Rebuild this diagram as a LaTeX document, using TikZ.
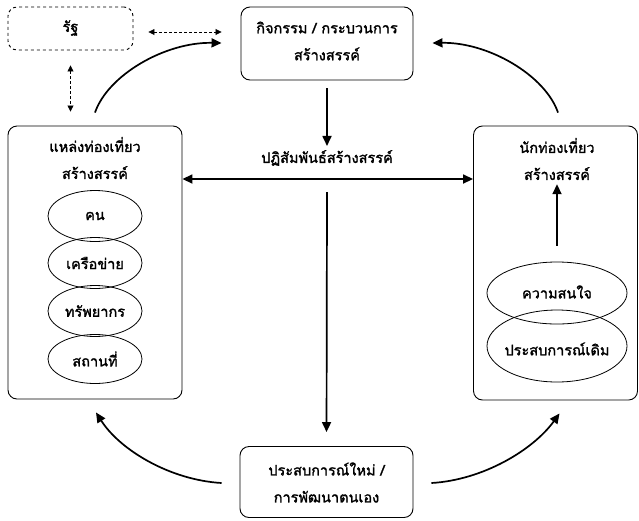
\documentclass[tikz,border=0pt]{standalone}
\usepackage{fontspec}
\newfontfamily\thaifont[Script=Thai,FakeBold=1.6]{Loma}
\usetikzlibrary{shapes.geometric,arrows.meta}
\tikzset{
  box/.style={draw, rounded corners=9pt, line width=0.9pt, inner sep=0pt},
  txt/.style={font=\thaifont\fontsize{14.5}{18}\selectfont, align=center, inner sep=0pt},
  oval/.style={draw, ellipse, line width=0.8pt, inner sep=0pt},
  arr/.style={-{Triangle[length=10pt,width=9pt]}, line width=1.7pt},
  darr/.style={{Triangle[length=10pt,width=9pt]}-{Triangle[length=10pt,width=9pt]}, line width=1.7pt},
  dasharr/.style={{Triangle[length=6pt,width=6pt]}-{Triangle[length=6pt,width=6pt]}, line width=0.8pt, dash pattern=on 3pt off 2pt},
}
\begin{document}
\begin{tikzpicture}[x=1pt,y=-1pt]
\useasboundingbox (0,0) rectangle (639,520);
% boxes
\node[box, dashed, minimum width=125pt, minimum height=43pt] (state) at (70.5,28.5) {};
\node[txt] (statet) at (70.5,28) {รัฐ};
\node[box, minimum width=172pt, minimum height=73pt] (act) at (327,43.5) {};
\node[txt] (actt) at (327,41) {กิจกรรม / กระบวนการ\\[9pt]สร้างสรรค์};
\node[txt] (inter) at (327,158) {ปฏิสัมพันธ์สร้างสรรค์};
\node[box, minimum width=174pt, minimum height=273pt] (left) at (95,262.5) {};
\node[txt] (leftt) at (95,158) {แหล่งท่องเที่ยว\\[9pt]สร้างสรรค์};
\node[box, minimum width=164pt, minimum height=274pt] (right) at (555.5,263) {};
\node[txt] (rightt) at (557,159) {นักท่องเที่ยว\\[9pt]สร้างสรรค์};
\node[box, minimum width=173pt, minimum height=71pt] (bottom) at (326.5,482) {};
\node[txt] (bottomt) at (326.5,482.5) {ประสบการณ์ใหม่ /\\[9pt]การพัฒนาตนเอง};
% left ellipses
\node[oval, minimum width=94pt, minimum height=51pt] (e1) at (95,216) {};
\node[oval, minimum width=94pt, minimum height=51pt] (e2) at (95,263) {};
\node[oval, minimum width=94pt, minimum height=51pt] (e3) at (95,311) {};
\node[oval, minimum width=94pt, minimum height=49pt] (e4) at (95,359) {};
\node[txt] at (e1) {คน};
\node[txt] at (e2) {เครือข่าย};
\node[txt] at (e3) {ทรัพยากร};
\node[txt] at (e4) {สถานที่};
% right ellipses
\node[oval, minimum width=140pt, minimum height=62pt] (r1) at (557,293) {};
\node[oval, minimum width=140pt, minimum height=72pt] (r2) at (557,346) {};
\node[txt] at (557,292) {ความสนใจ};
\node[txt] at (557,349) {ประสบการณ์เดิม};
% coordinates
\coordinate (hl) at (left.east |- 0,179);
\coordinate (hr) at (right.west |- 0,179);
\coordinate (vtop) at (327,192);
% connectors
\draw[dasharr] ([xshift=15pt,yshift=-3.5pt]state.east) -- ([xshift=-19pt,yshift=-3.5pt]state.east -| act.west);
\draw[dasharr] ([yshift=-15pt]state.south) -- ([yshift=14pt]state.south |- left.north);
\draw[arr, shorten <=8pt, shorten >=4pt] (act.south) -- (inter.north);
\draw[darr] (hl) -- (hr);
\draw[arr, shorten >=14pt] (vtop) -- (bottom.north);
\draw[arr, shorten <=16pt, shorten >=4pt] (r1.north) -- (rightt.south);
\draw[arr] ([yshift=13pt]left.north) .. controls (108,75) and (165,42) .. ([xshift=-19pt,yshift=0.5pt]act.west);
\draw[arr] ([xshift=2.5pt,yshift=13pt]right.north) .. controls (545,75) and (488,42) .. ([xshift=19pt,yshift=0.5pt]act.east);
\draw[arr] ([xshift=-18pt,yshift=-1pt]bottom.west) .. controls (170,480) and (120,450) .. ([xshift=1pt,yshift=-13pt]left.south);
\draw[arr] ([xshift=18pt,yshift=-1pt]bottom.east) .. controls (483,480) and (533,450) .. ([xshift=4pt,yshift=-13pt]right.south);
\end{tikzpicture}
\end{document}
